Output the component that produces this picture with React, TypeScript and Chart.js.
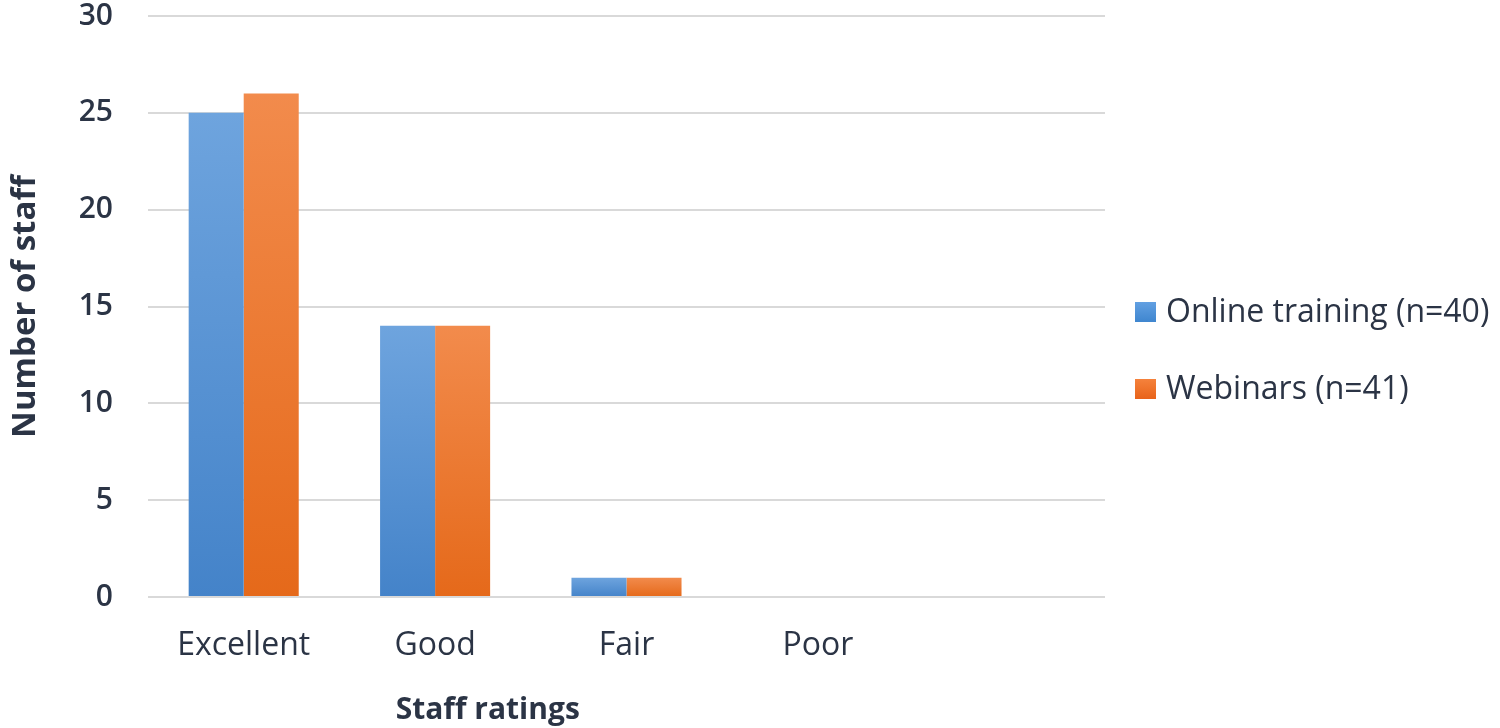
import React, { useEffect, useRef } from "react";
import { Chart, registerables } from "chart.js";

Chart.register(...registerables);

const categories = ["Excellent", "Good", "Fair", "Poor", ""];
const onlineTraining = [25, 14, 1, 0, null];
const webinars = [26, 14, 1, 0, null];
const seriesNames = ["Online training (n=40)", "Webinars (n=41)"];
const yTicks = { min: 0, max: 30, step: 5 };
const xTitle = "Staff ratings";
const yTitle = "Number of staff";

const TEXT = "#2b3445";
const FONT = "'Open Sans', 'Noto Sans', sans-serif";

const COLORS = [
  { top: "#6ea4de", bottom: "#4483c9", legendTop: "#62a0e2", legendBottom: "#3f86cf" },
  { top: "#f28b4c", bottom: "#e5691a", legendTop: "#f5823c", legendBottom: "#e8631a" },
];

const gradientFill = (top: string, bottom: string) => (ctx: any) => {
  const chart = ctx.chart;
  const yScale = chart.scales && chart.scales.y;
  if (!chart.chartArea || !yScale || ctx.type !== "data") return bottom;
  const v = ctx.raw;
  if (v == null || v === 0) return bottom;
  const y0 = yScale.getPixelForValue(v);
  const y1 = yScale.getPixelForValue(0);
  const g = chart.ctx.createLinearGradient(0, y0, 0, y1);
  g.addColorStop(0, top);
  g.addColorStop(1, bottom);
  return g;
};

const extrasPlugin = {
  id: "extrasPlugin",
  afterDraw(chart: any) {
    const { ctx, chartArea } = chart;
    ctx.save();
    // x-axis title
    ctx.font = `bold 30px ${FONT}`;
    ctx.fillStyle = TEXT;
    ctx.textAlign = "center";
    ctx.textBaseline = "middle";
    const x = chartArea.left + (chartArea.right - chartArea.left) * 0.355;
    ctx.fillText(xTitle, x, 710);
    // legend
    const boxX = chartArea.right + 30;
    const firstY = 312;
    const step = 77;
    ctx.font = `32px ${FONT}`;
    ctx.textAlign = "left";
    chart.data.datasets.forEach((ds: any, i: number) => {
      const cy = firstY + i * step;
      const g = ctx.createLinearGradient(0, cy - 10, 0, cy + 10);
      g.addColorStop(0, COLORS[i].legendTop);
      g.addColorStop(1, COLORS[i].legendBottom);
      ctx.fillStyle = g;
      ctx.fillRect(boxX, cy - 10, 21, 20);
      ctx.fillStyle = TEXT;
      ctx.fillText(ds.label, boxX + 31, cy + 1);
    });
    ctx.restore();
  },
};

export default function App() {
  const ref = useRef<HTMLCanvasElement | null>(null);
  useEffect(() => {
    if (!ref.current) return;
    const chart = new Chart(ref.current, {
      type: "bar",
      data: {
        labels: categories,
        datasets: [
          {
            label: seriesNames[0],
            data: onlineTraining,
            backgroundColor: gradientFill(COLORS[0].top, COLORS[0].bottom),
            borderWidth: 0,
          },
          {
            label: seriesNames[1],
            data: webinars,
            backgroundColor: gradientFill(COLORS[1].top, COLORS[1].bottom),
            borderWidth: 0,
          },
        ],
      },
      options: {
        animation: false,
        responsive: true,
        maintainAspectRatio: false,
        layout: { padding: { left: 0, top: 16, bottom: 0, right: 395 } },
        datasets: { bar: { categoryPercentage: 0.575, barPercentage: 1 } },
        plugins: {
          tooltip: { enabled: false },
          legend: { display: false },
        },
        scales: {
          x: {
            grid: { display: false, drawTicks: false },
            border: { display: false },
            ticks: { color: TEXT, font: { family: FONT, size: 32 }, padding: 30, maxRotation: 0 },
            afterFit: (s: any) => {
              s.height = 131;
              s.paddingLeft = 0;
              s.paddingRight = 0;
            },
          },
          y: {
            min: yTicks.min,
            max: yTicks.max,
            ticks: { stepSize: yTicks.step, color: TEXT, font: { family: FONT, size: 30, weight: "600" }, padding: 35 },
            grid: { color: "#d9d9d9", lineWidth: 2, drawTicks: false },
            border: { display: false },
            title: {
              display: true,
              text: yTitle,
              color: TEXT,
              font: { family: FONT, size: 33, weight: "bold" },
              padding: { top: 6, bottom: 20 },
            },
            afterFit: (s: any) => {
              s.width = 148;
              s.paddingTop = 0;
              s.paddingBottom = 0;
            },
          },
        },
      },
      plugins: [extrasPlugin],
    });
    return () => chart.destroy();
  }, []);
  return (
    <div style={{ position: "absolute", left: 0, top: 0, width: 1500, height: 728, background: "#fff" }}>
      <canvas ref={ref} />
    </div>
  );
}
